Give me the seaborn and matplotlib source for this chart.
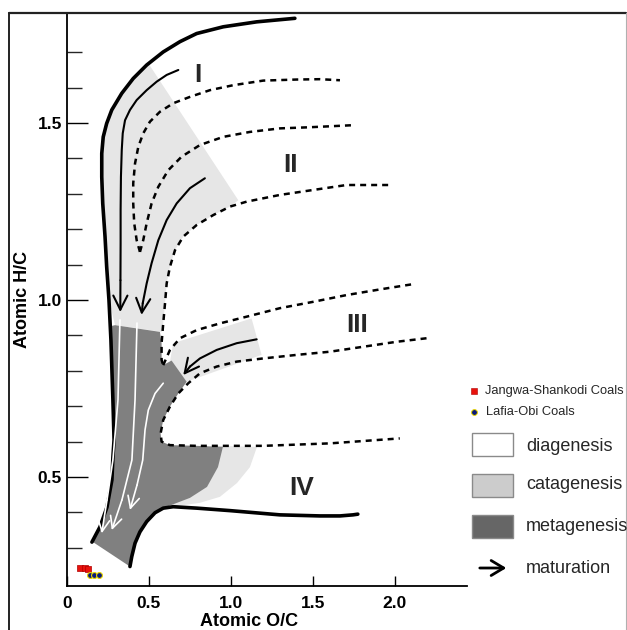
import matplotlib
matplotlib.use("Agg")
import matplotlib.pyplot as plt
from matplotlib.lines import Line2D
from matplotlib.patches import Rectangle, FancyArrowPatch
import pandas as pd
import seaborn as sns

# ---------------- sample data (atomic O/C, H/C) ----------------
jangwa_oc = [0.079, 0.110, 0.128]
jangwa_hc = [0.243, 0.243, 0.240]
lafia_oc = [0.140, 0.165, 0.195]
lafia_hc = [0.223, 0.223, 0.223]

# ---------------- Van Krevelen template ----------------
# thick upper / left envelope
env_top_oc = [1.390, 1.157, 0.953, 0.791, 0.689, 0.587, 0.486, 0.404, 0.334, 0.273, 0.242,
              0.221, 0.212, 0.212, 0.218, 0.232, 0.242, 0.256, 0.268, 0.280, 0.287, 0.280,
              0.274, 0.244, 0.201, 0.152]
env_top_hc = [1.796, 1.786, 1.772, 1.753, 1.730, 1.701, 1.664, 1.626, 1.584, 1.537, 1.499,
              1.461, 1.414, 1.348, 1.273, 1.179, 1.094, 1.000, 0.887, 0.718, 0.605, 0.556,
              0.492, 0.415, 0.359, 0.316]
# thick lower envelope (type IV)
env_bot_oc = [0.384, 0.395, 0.415, 0.445, 0.486, 0.537, 0.587, 0.648, 0.791, 0.994, 1.299,
              1.543, 1.665, 1.744, 1.774]
env_bot_hc = [0.247, 0.275, 0.313, 0.345, 0.374, 0.399, 0.412, 0.416, 0.412, 0.405, 0.393,
              0.390, 0.390, 0.393, 0.395]
# dashed boundaries
d1_oc = [0.445, 0.425, 0.410, 0.404, 0.404, 0.415, 0.435, 0.465, 0.506, 0.567, 0.648, 0.750,
         0.872, 1.014, 1.197, 1.401, 1.543, 1.665]
d1_hc = [1.136, 1.169, 1.217, 1.273, 1.330, 1.386, 1.433, 1.471, 1.504, 1.532, 1.556, 1.574,
         1.593, 1.607, 1.620, 1.623, 1.624, 1.621]
d2_oc = [0.445, 0.465, 0.486, 0.516, 0.557, 0.618, 0.699, 0.811, 0.953, 1.116, 1.299, 1.471, 1.744]
d2_hc = [1.136, 1.169, 1.217, 1.273, 1.320, 1.367, 1.405, 1.438, 1.461, 1.475, 1.485, 1.488, 1.494]
d3_oc = [1.959, 1.705, 1.502, 1.299, 1.096, 0.994, 0.892, 0.791, 0.709, 0.659, 0.628, 0.608,
         0.598, 0.587, 0.577, 0.577, 0.587]
d3_hc = [1.325, 1.325, 1.311, 1.297, 1.278, 1.264, 1.240, 1.212, 1.179, 1.141, 1.094, 1.047,
         0.991, 0.934, 0.878, 0.831, 0.816]
d4_oc = [0.587, 0.628, 0.689, 0.791, 0.933, 1.096, 1.299, 1.502, 1.705, 1.909, 2.112]
d4_hc = [0.816, 0.859, 0.892, 0.915, 0.934, 0.953, 0.977, 0.995, 1.014, 1.030, 1.045]
d5_oc = [2.193, 2.010, 1.807, 1.604, 1.401, 1.197, 1.035, 0.913, 0.811, 0.740, 0.679, 0.628,
         0.587, 0.571, 0.577, 0.628, 0.791, 1.197, 1.604, 2.030]
d5_hc = [0.892, 0.882, 0.868, 0.854, 0.845, 0.835, 0.826, 0.812, 0.793, 0.765, 0.736, 0.699,
         0.661, 0.623, 0.600, 0.590, 0.588, 0.588, 0.595, 0.609]
# maturation paths (black)
a1_oc = [0.679, 0.608, 0.547, 0.486, 0.425, 0.384, 0.354, 0.340, 0.334, 0.329, 0.327, 0.327,
         0.326, 0.325]
a1_hc = [1.650, 1.636, 1.617, 1.593, 1.565, 1.537, 1.508, 1.471, 1.424, 1.348, 1.254, 1.160,
         1.056, 0.966]
a2_oc = [0.841, 0.750, 0.669, 0.608, 0.557, 0.516, 0.486, 0.462, 0.455]
a2_hc = [1.344, 1.316, 1.273, 1.226, 1.169, 1.104, 1.047, 0.991, 0.958]
a3_oc = [1.157, 1.035, 0.913, 0.811, 0.750, 0.709]
a3_hc = [0.889, 0.878, 0.859, 0.835, 0.812, 0.788]
# maturation paths (white, metagenesis)
w1_oc = [0.323, 0.311, 0.280, 0.244, 0.212]
w1_hc = [0.944, 0.718, 0.548, 0.435, 0.341]
w2_oc = [0.427, 0.415, 0.396, 0.335, 0.273]
w2_hc = [0.935, 0.718, 0.548, 0.435, 0.350]
w3_oc = [0.587, 0.537, 0.496, 0.476, 0.462, 0.427, 0.384]
w3_hc = [0.765, 0.736, 0.689, 0.633, 0.548, 0.477, 0.407]
# zones
cat1_oc = [0.496, 1.045, 0.994, 0.892, 0.791, 0.709, 0.659, 0.628, 0.608, 0.598, 0.587, 0.579,
           0.293, 0.256, 0.242, 0.232, 0.218, 0.212, 0.212, 0.221, 0.242, 0.273, 0.334, 0.404,
           0.486]
cat1_hc = [1.669, 1.282, 1.264, 1.240, 1.212, 1.179, 1.141, 1.094, 1.047, 0.991, 0.934, 0.910,
           0.929, 1.000, 1.094, 1.179, 1.273, 1.348, 1.414, 1.461, 1.499, 1.537, 1.584, 1.626,
           1.664]
cat2_oc = [0.648, 1.126, 1.187, 0.730, 0.628]
cat2_hc = [0.878, 0.948, 0.845, 0.769, 0.826]
cat3_oc = [0.902, 1.159, 1.116, 1.037, 0.933, 0.811, 0.628, 0.689]
cat3_hc = [0.588, 0.585, 0.528, 0.483, 0.444, 0.427, 0.415, 0.463]
meta_oc = [0.293, 0.567, 0.577, 0.577, 0.587, 0.638, 0.730, 0.679, 0.628, 0.587, 0.571, 0.577,
           0.628, 0.791, 0.951, 0.921, 0.854, 0.750, 0.671, 0.587, 0.537, 0.486, 0.445, 0.415,
           0.395, 0.384, 0.159, 0.201, 0.244, 0.274, 0.280, 0.287, 0.280, 0.268, 0.274]
meta_hc = [0.929, 0.910, 0.878, 0.831, 0.816, 0.829, 0.769, 0.736, 0.699, 0.661, 0.623, 0.600,
           0.590, 0.588, 0.585, 0.528, 0.472, 0.441, 0.427, 0.412, 0.399, 0.374, 0.345, 0.313,
           0.275, 0.247, 0.316, 0.359, 0.415, 0.492, 0.556, 0.605, 0.718, 0.887, 0.927]
# kerogen type labels
type_labels = ["I", "II", "III", "IV"]
type_oc = [0.799, 1.366, 1.768, 1.433]
type_hc = [1.636, 1.381, 0.929, 0.469]

x_ticks = [0, 0.5, 1.0, 1.5, 2.0]
x_tick_labels = ["0", "0.5", "1.0", "1.5", "2.0"]
y_ticks = [0.5, 1.0, 1.5]
y_tick_labels = ["0.5", "1.0", "1.5"]
y_minor = [0.3, 0.4, 0.6, 0.7, 0.8, 0.9, 1.1, 1.2, 1.3, 1.4, 1.6, 1.7]

# ---------------- figure ----------------
sns.set_theme(style="white")
plt.rcParams["font.family"] = ["Liberation Sans", "DejaVu Sans"]

fig = plt.figure(figsize=(6.27, 6.30), dpi=100)
ax = fig.add_axes([67 / 627, 44 / 630, 400 / 627, 573 / 630])
ax.set_xlim(0, 2.44)
ax.set_ylim(0.192, 1.811)

LIGHT = "#e6e6e6"
DARK = "#808080"
ax.fill(cat1_oc, cat1_hc, color=LIGHT, lw=0, zorder=1)
ax.fill(cat2_oc, cat2_hc, color=LIGHT, lw=0, zorder=1)
ax.fill(cat3_oc, cat3_hc, color=LIGHT, lw=0, zorder=1)
ax.fill(meta_oc, meta_hc, color=DARK, lw=0, zorder=2)

dash = (0, (2.4, 2.0))
for xs, ys in [(d1_oc, d1_hc), (d2_oc, d2_hc), (d3_oc, d3_hc), (d4_oc, d4_hc), (d5_oc, d5_hc)]:
    ax.plot(xs, ys, color="black", lw=1.8, linestyle=dash, zorder=3, solid_joinstyle="round")

for xs, ys in [(env_top_oc, env_top_hc), (env_bot_oc, env_bot_hc)]:
    ax.plot(xs, ys, color="black", lw=2.6, zorder=4, solid_capstyle="round",
            solid_joinstyle="round")


def path_arrow(xs, ys, color, lw, ms):
    ax.plot(xs[:-1], ys[:-1], color=color, lw=lw, zorder=4, solid_joinstyle="round")
    ax.annotate("", xy=(xs[-1], ys[-1]), xytext=(xs[-2], ys[-2]),
                arrowprops=dict(arrowstyle="->,head_length=0.6,head_width=0.3",
                                color=color, lw=lw, shrinkA=0, shrinkB=0,
                                mutation_scale=ms), zorder=4)


for xs, ys in [(a1_oc, a1_hc), (a2_oc, a2_hc), (a3_oc, a3_hc)]:
    path_arrow(xs, ys, "black", 1.5, 17)
for xs, ys in [(w1_oc, w1_hc), (w2_oc, w2_hc), (w3_oc, w3_hc)]:
    path_arrow(xs, ys, "white", 1.2, 14)

for lab, x, y in zip(type_labels, type_oc, type_hc):
    ax.text(x, y, lab, ha="center", va="center", fontsize=19, fontweight="bold", zorder=5)

samples = pd.DataFrame({
    "O/C": jangwa_oc + lafia_oc,
    "H/C": jangwa_hc + lafia_hc,
    "group": ["Jangwa-Shankodi Coals"] * len(jangwa_oc) + ["Lafia-Obi Coals"] * len(lafia_oc),
})
sns.scatterplot(data=samples[samples.group == "Jangwa-Shankodi Coals"], x="O/C", y="H/C",
                marker="s", color="#e8120c", edgecolor="#b00000", linewidth=0.5, s=22,
                legend=False, ax=ax, zorder=6, clip_on=False)
sns.scatterplot(data=samples[samples.group == "Lafia-Obi Coals"], x="O/C", y="H/C",
                marker="o", color="#0a1a7a", edgecolor="#e8d400", linewidth=0.8, s=18,
                legend=False, ax=ax, zorder=7, clip_on=False)

# axes styling
for s in ["top", "right"]:
    ax.spines[s].set_visible(False)
for s in ["left", "bottom"]:
    ax.spines[s].set_color("black")
    ax.spines[s].set_linewidth(1.3)
ax.set_xticks(x_ticks)
ax.set_xticklabels(x_tick_labels)
ax.set_yticks(y_ticks)
ax.set_yticklabels(y_tick_labels)
ax.set_yticks(y_minor, minor=True)
ax.tick_params(axis="x", which="major", bottom=True, direction="in", length=7, width=1,
               pad=7, labelsize=12.5, colors="black")
ax.tick_params(axis="y", which="major", left=True, direction="in", length=15, width=1,
               pad=3.6, labelsize=12.5, colors="black")
ax.tick_params(axis="y", which="minor", left=True, direction="in", length=11, width=1)
for t in ax.get_xticklabels() + ax.get_yticklabels():
    t.set_fontweight("bold")
ax.grid(False)
ax.set_xlabel("Atomic O/C", fontsize=13, fontweight="bold", color="black")
ax.set_ylabel("Atomic H/C", fontsize=13, fontweight="bold", color="black")
ax.xaxis.set_label_coords(0.455, -0.047)
ax.yaxis.set_label_coords(-0.09, 0.5)

# ---------------- legend (manual) ----------------
fig.add_artist(Line2D([0.756], [0.379], marker="s", markersize=4.5, color="#e8120c",
                      markeredgecolor="#b00000", markeredgewidth=0.4, linestyle="none",
                      transform=fig.transFigure))
fig.text(0.7735, 0.379, "Jangwa-Shankodi Coals", fontsize=9.3, va="center", ha="left")
fig.add_artist(Line2D([0.756], [0.346], marker="o", markersize=4.2, color="#0a1a7a",
                      markeredgecolor="#e8d400", markeredgewidth=0.7, linestyle="none",
                      transform=fig.transFigure))
fig.text(0.775, 0.346, "Lafia-Obi Coals", fontsize=9.3, va="center", ha="left")

boxes = [("diagenesis", "white", 0.2762, 0.292),
         ("catagenesis", "#cccccc", 0.2111, 0.2302),
         ("metagenesis", "#666666", 0.146, 0.1635)]
for name, fc, yb, yt in boxes:
    fig.add_artist(Rectangle((0.7528, yb), 0.0654, 0.037, facecolor=fc,
                             edgecolor="#8a8a8a", lw=1.0, transform=fig.transFigure))
    fig.text(0.839, yt, name, fontsize=13, va="center", ha="left")
fig.add_artist(FancyArrowPatch((0.7608, 0.0984), (0.812, 0.0984), transform=fig.transFigure,
                               arrowstyle="->,head_length=0.5,head_width=0.3",
                               mutation_scale=18, lw=2.0, color="black"))
fig.text(0.839, 0.0984, "maturation", fontsize=13, va="center", ha="left")

# outer frame
fig.add_artist(Line2D([9 / 627, 9 / 627], [0, 1 - 13 / 630], color="#222222", lw=1.4,
                      transform=fig.transFigure))
fig.add_artist(Line2D([9 / 627, 626 / 627], [1 - 13 / 630, 1 - 13 / 630], color="#222222",
                      lw=1.6, transform=fig.transFigure))
fig.add_artist(Line2D([626 / 627, 626 / 627], [0, 1 - 13 / 630], color="#b0b0b0", lw=0.8,
                      transform=fig.transFigure))

fig.savefig("out.png", dpi=100)
